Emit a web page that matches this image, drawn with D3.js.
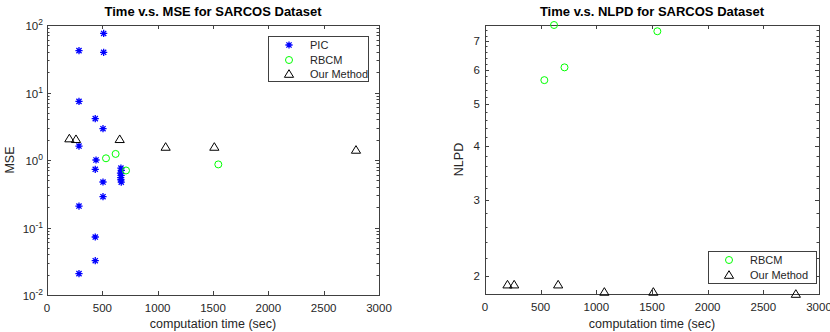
<!DOCTYPE html>
<html><head><meta charset="utf-8">
<script src="https://cdn.jsdelivr.net/npm/d3@7"></script>
<style>body{margin:0;background:#fff}svg{display:block}text{font-family:"Liberation Sans",Arial,sans-serif;fill:#262626}</style>
</head><body><svg id="c" width="830" height="332"></svg>
<script>
// ---- data ----
const xTicks = [0, 500, 1000, 1500, 2000, 2500, 3000];
const mseTicks = [1e-2, 1e-1, 1e0, 1e1, 1e2];
const mseTickExp = ["-2", "-1", "0", "1", "2"];
const nlpdTicks = [2, 3, 4, 5, 6, 7];

const picTime = [512, 512, 289, 289, 436, 506, 289, 443, 436, 506, 506, 289, 436, 436, 289, 668, 672, 664, 670, 666, 668, 671];
const picMSE  = [75, 39.4, 41.7, 7.4, 4.1, 2.91, 1.61, 1.0, 0.728, 0.472, 0.286, 0.208, 0.0723, 0.0322, 0.0207, 0.76, 0.70, 0.64, 0.59, 0.55, 0.51, 0.47];

const rbcmTime = [533, 620, 714, 1548];
const rbcmMSE  = [1.06, 1.23, 0.70, 0.86];
const rbcmNLPD = [5.68, 7.62, 6.08, 7.37];

const ourTime = [202, 262, 657, 1072, 1512, 2792];
const ourMSE  = [2.08, 2.03, 2.03, 1.56, 1.56, 1.41];
const ourNLPD = [1.91, 1.91, 1.91, 1.837, 1.837, 1.817];

const titles = ["Time v.s. MSE for SARCOS Dataset", "Time v.s. NLPD for SARCOS Dataset"];
const xLabel = "computation time (sec)";
const yLabels = ["MSE", "NLPD"];
const legend1 = ["PIC", "RBCM", "Our Method"];
const legend2 = ["RBCM", "Our Method"];

// ---- drawing ----
const svg = d3.select("#c");
const AX = "#404040";

function starPath(s){ const a=s, d=s*0.72;
  return `M${-a},0L${a},0M0,${-a}L0,${a}M${-d},${-d}L${d},${d}M${-d},${d}L${d},${-d}`; }
function triPath(){ return "M0,-4.3L4.6,3.3L-4.6,3.3Z"; }

function drawStar(g, x, y){ g.append("path").attr("transform",`translate(${x},${y})`).attr("d",starPath(3.6)).attr("stroke","#0000ff").attr("stroke-width",1.3).attr("fill","none"); }
function drawCircle(g, x, y){ g.append("circle").attr("cx",x).attr("cy",y).attr("r",3.5).attr("stroke","#00ff00").attr("stroke-width",1).attr("fill","none"); }
function drawTri(g, x, y){ g.append("path").attr("transform",`translate(${x},${y})`).attr("d",triPath()).attr("stroke","#000").attr("stroke-width",1).attr("fill","none"); }

function frame(x, y, x0, x1, y0, y1){
  const g = svg.append("g");
  g.append("rect").attr("x",x0+0.5).attr("y",y0+0.5).attr("width",x1-x0).attr("height",y1-y0).attr("fill","none").attr("stroke",AX).attr("stroke-width",1);
  xTicks.forEach(t=>{
    const px = Math.round(x(t))+0.5;
    g.append("line").attr("x1",px).attr("x2",px).attr("y1",y1).attr("y2",y1-4).attr("stroke",AX);
    g.append("line").attr("x1",px).attr("x2",px).attr("y1",y0).attr("y2",y0+4).attr("stroke",AX);
    g.append("text").attr("x",x(t)).attr("y",y1+17).attr("text-anchor","middle").attr("font-size",11.5).text(t);
  });
  return g;
}

// Left plot
{
  const x0=47, x1=379, y0=25, y1=295;
  const x = d3.scaleLinear().domain([0,3000]).range([x0,x1]);
  const y = d3.scaleLog().domain([1e-2,1e2]).range([y1,y0]);
  const g = frame(x,y,x0,x1,y0,y1);
  mseTicks.forEach((t,i)=>{
    const py = Math.round(y(t))+0.5;
    g.append("line").attr("x1",x0).attr("x2",x0+4).attr("y1",py).attr("y2",py).attr("stroke",AX);
    g.append("line").attr("x1",x1).attr("x2",x1-4).attr("y1",py).attr("y2",py).attr("stroke",AX);
    const tx = g.append("text").attr("x",x0-4).attr("y",y(t)+5).attr("text-anchor","end").attr("font-size",11.5);
    tx.append("tspan").text("10");
    tx.append("tspan").attr("dy",-5).attr("font-size",8.5).text(mseTickExp[i]);
  });
  for (let e=-2;e<2;e++) for (let m=2;m<=9;m++){
    const py = Math.round(y(m*Math.pow(10,e)))+0.5;
    g.append("line").attr("x1",x0).attr("x2",x0+2.5).attr("y1",py).attr("y2",py).attr("stroke",AX);
    g.append("line").attr("x1",x1).attr("x2",x1-2.5).attr("y1",py).attr("y2",py).attr("stroke",AX);
  }
  g.append("text").attr("x",(x0+x1)/2).attr("y",16).attr("text-anchor","middle").attr("font-size",13).attr("font-weight","bold").style("fill","#000").text(titles[0]);
  g.append("text").attr("x",(x0+x1)/2).attr("y",328).attr("text-anchor","middle").attr("font-size",12.5).text(xLabel);
  g.append("text").attr("transform",`translate(14,${(y0+y1)/2}) rotate(-90)`).attr("text-anchor","middle").attr("font-size",12.5).text(yLabels[0]);
  picTime.forEach((t,i)=>drawStar(g,x(t),y(picMSE[i])));
  rbcmTime.forEach((t,i)=>drawCircle(g,x(t),y(rbcmMSE[i])));
  ourTime.forEach((t,i)=>drawTri(g,x(t),y(ourMSE[i])));
  g.append("rect").attr("x",268.5).attr("y",36.5).attr("width",100).attr("height",45).attr("fill","#fff").attr("stroke",AX);
  const ly=[45,60,74];
  drawStar(g,289,ly[0]); drawCircle(g,289,ly[1]); drawTri(g,289,ly[2]);
  legend1.forEach((s,i)=>g.append("text").attr("x",310).attr("y",ly[i]+4).attr("font-size",11).text(s));
}

// Right plot
{
  const x0=485, x1=819, y0=25, y1=294;
  const x = d3.scaleLinear().domain([0,3000]).range([x0,x1]);
  const y = d3.scaleLog().domain([1.817,7.62]).range([y1,y0]);
  const g = frame(x,y,x0,x1,y0,y1);
  nlpdTicks.forEach(t=>{
    const py = Math.round(y(t))+0.5;
    g.append("line").attr("x1",x0).attr("x2",x0+4).attr("y1",py).attr("y2",py).attr("stroke",AX);
    g.append("line").attr("x1",x1).attr("x2",x1-4).attr("y1",py).attr("y2",py).attr("stroke",AX);
    g.append("text").attr("x",x0-5).attr("y",y(t)+4).attr("text-anchor","end").attr("font-size",11.5).text(t);
  });
  for (let v=1.8; v<7.61; v+=0.2){
    const r = Math.round(v*10)/10;
    if (Math.abs(r-Math.round(r))<1e-6) continue;
    if (r<1.817) continue;
    const py = Math.round(y(r))+0.5;
    g.append("line").attr("x1",x0).attr("x2",x0+2.5).attr("y1",py).attr("y2",py).attr("stroke",AX);
    g.append("line").attr("x1",x1).attr("x2",x1-2.5).attr("y1",py).attr("y2",py).attr("stroke",AX);
  }
  g.append("text").attr("x",(x0+x1)/2).attr("y",16).attr("text-anchor","middle").attr("font-size",13).attr("font-weight","bold").style("fill","#000").text(titles[1]);
  g.append("text").attr("x",(x0+x1)/2).attr("y",328).attr("text-anchor","middle").attr("font-size",12.5).text(xLabel);
  g.append("text").attr("transform",`translate(463,${(y0+y1)/2}) rotate(-90)`).attr("text-anchor","middle").attr("font-size",12.5).text(yLabels[1]);
  rbcmTime.forEach((t,i)=>drawCircle(g,x(t),y(rbcmNLPD[i])));
  ourTime.forEach((t,i)=>drawTri(g,x(t),y(ourNLPD[i])));
  g.append("rect").attr("x",708.5).attr("y",251.5).attr("width",108).attr("height",32).attr("fill","#fff").attr("stroke",AX);
  const ly=[260,275];
  drawCircle(g,729,ly[0]); drawTri(g,729,ly[1]);
  legend2.forEach((s,i)=>g.append("text").attr("x",750).attr("y",ly[i]+4).attr("font-size",11).text(s));
}
</script></body></html>
